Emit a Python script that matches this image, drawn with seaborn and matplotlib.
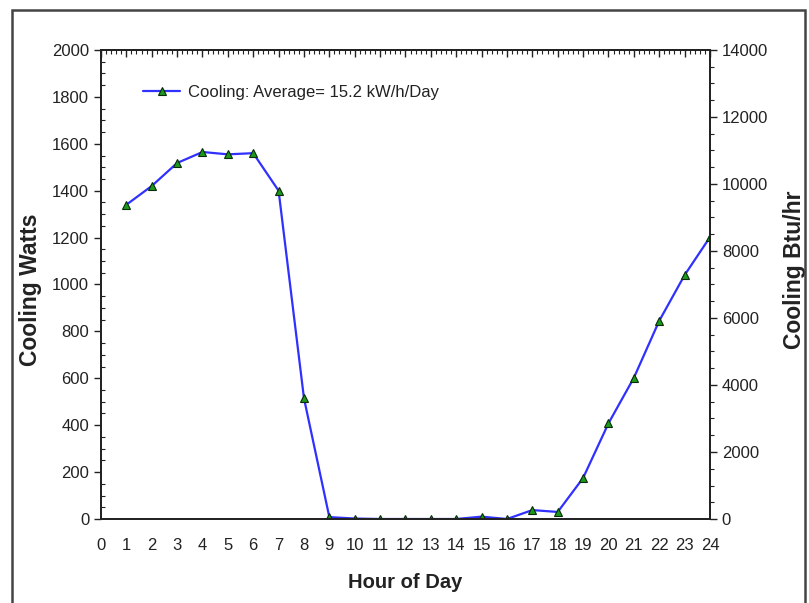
import matplotlib
matplotlib.use("Agg")
import matplotlib.pyplot as plt
from matplotlib.ticker import MultipleLocator, NullFormatter
from matplotlib.patches import Rectangle
import seaborn as sns
import pandas as pd

hours = list(range(1, 25))
cooling_watts = [1340, 1420, 1518, 1565, 1555, 1560, 1400, 515, 8, 2,
                 0, 0, 0, 0, 10, 0, 38, 30, 175, 408,
                 602, 845, 1040, 1202]
legend_label = "Cooling: Average= 15.2 kW/h/Day"

df = pd.DataFrame({"Hour": hours, "Watts": cooling_watts})

sns.set_style("white")
plt.rcParams["font.family"] = ["Liberation Sans", "DejaVu Sans"]

ink = "#222222"
fig = plt.figure(figsize=(8.09, 6.03), dpi=100)
ax = fig.add_axes([0.1248, 0.1393, 0.7528, 0.7778])

sns.lineplot(data=df, x="Hour", y="Watts", ax=ax, color="#3030ff", linewidth=1.6,
             marker="^", markersize=6, markerfacecolor="#1a9a1a",
             markeredgecolor="#0a2a0a", markeredgewidth=0.8, label=legend_label)

ax.set_xlim(0, 24)
ax.set_ylim(0, 2000)
ax.xaxis.set_major_locator(MultipleLocator(1))
ax.xaxis.set_minor_locator(MultipleLocator(0.2))
ax.yaxis.set_major_locator(MultipleLocator(200))
ax.yaxis.set_minor_locator(MultipleLocator(50))

for s in ax.spines.values():
    s.set_color(ink)
    s.set_linewidth(1.3)

ax.tick_params(axis="both", which="major", direction="out", length=5, width=1,
               color=ink, labelsize=12, labelcolor=ink)
ax.tick_params(axis="x", which="major", pad=9)
ax.tick_params(axis="x", which="minor", direction="out", length=3, width=0.8, color=ink)
ax.tick_params(axis="y", which="minor", direction="in", length=3, width=0.8, color=ink)

# inward ticks along the top edge
top = ax.secondary_xaxis("top")
top.xaxis.set_major_locator(MultipleLocator(1))
top.xaxis.set_minor_locator(MultipleLocator(0.2))
top.xaxis.set_major_formatter(NullFormatter())
top.tick_params(axis="x", which="major", direction="in", length=5, width=1, color=ink)
top.tick_params(axis="x", which="minor", direction="in", length=3, width=0.8, color=ink)
top.spines["top"].set_color(ink)
top.spines["top"].set_linewidth(1.3)

ax.set_xlabel("Hour of Day", fontsize=14.5, fontweight="bold", color=ink)
ax.xaxis.set_label_coords(0.5, -0.116)
ax.set_ylabel("Cooling Watts", fontsize=16.5, fontweight="bold", color=ink)
ax.yaxis.set_label_coords(-0.097, 0.488)

ax2 = ax.twinx()
ax2.set_ylim(0, 14000)
ax2.yaxis.set_major_locator(MultipleLocator(2000))
ax2.yaxis.set_minor_locator(MultipleLocator(500))
ax2.tick_params(axis="y", which="major", direction="out", length=5, width=1,
                color=ink, labelsize=12, labelcolor=ink)
ax2.tick_params(axis="y", which="minor", direction="out", length=3, width=0.8, color=ink)
ax2.set_ylabel("Cooling Btu/hr", fontsize=16.5, fontweight="bold", color=ink)
ax2.yaxis.set_label_coords(1.12, 0.531)
for s in ax2.spines.values():
    s.set_color(ink)
    s.set_linewidth(1.3)

leg = ax.legend(loc="upper left", bbox_to_anchor=(0.045, 0.958), frameon=False,
                fontsize=12, handlelength=2.2, handletextpad=0.5)
for t in leg.get_texts():
    t.set_color(ink)

fig.patches.append(Rectangle((0.0148, -0.02), 0.980, 1.003, transform=fig.transFigure,
                             fill=False, edgecolor="#444444", linewidth=1.8))

fig.savefig("out.png", dpi=100)
